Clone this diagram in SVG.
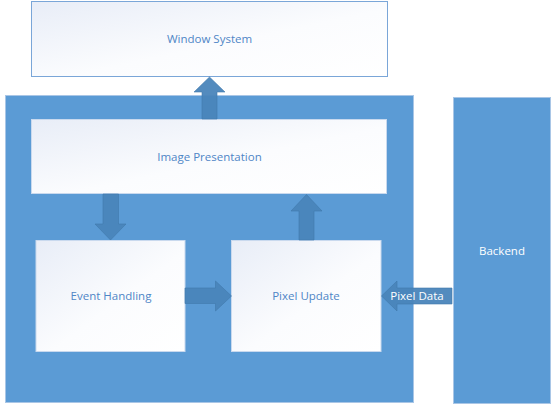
<svg xmlns="http://www.w3.org/2000/svg" width="557" height="412" viewBox="0 0 557 412">
<defs>
<linearGradient id="g" x1="0" y1="0" x2="1" y2="1">
<stop offset="0" stop-color="#e8edf7"/>
<stop offset="0.55" stop-color="#fbfcfe"/>
<stop offset="1" stop-color="#ffffff"/>
</linearGradient>
</defs>
<style>
.lbl{font-family:"Open Sans","Liberation Sans",sans-serif;font-size:11.5px;fill:#4f86c6;text-anchor:middle;dominant-baseline:central}
.wlbl{font-family:"Open Sans","Liberation Sans",sans-serif;font-size:11.5px;fill:#ffffff;text-anchor:middle;dominant-baseline:central}
.box{fill:url(#g);stroke:#c9d9ee;stroke-width:1}
.cont{fill:#5b9bd5;stroke:#a9c6e6;stroke-width:1}
.arr{fill:#4a85ba;stroke:#3f78ab;stroke-width:0.6;fill-opacity:0.95}
</style>
<rect width="557" height="412" fill="#ffffff"/>
<g id="window-system">
<rect x="31.5" y="1.5" width="356" height="75" fill="url(#g)" stroke="#7aa6d8" stroke-width="1"/>
<text class="lbl" x="209.5" y="38.5">Window System</text>
</g>
<g id="frontend">
<rect class="cont" x="5.5" y="95.5" width="408" height="307"/>
</g>
<g id="backend">
<rect class="cont" x="453.5" y="97.5" width="97" height="306"/>
<text class="wlbl" x="502" y="250.5">Backend</text>
</g>
<g id="image-presentation">
<rect class="box" x="31.5" y="119.5" width="355" height="74"/>
<text class="lbl" x="209.5" y="156.5">Image Presentation</text>
</g>
<g id="event-handling">
<rect class="box" x="36" y="240.5" width="149" height="111"/>
<text class="lbl" x="111" y="295.5">Event Handling</text>
</g>
<g id="pixel-update">
<rect class="box" x="231.5" y="240.5" width="149.5" height="111"/>
<text class="lbl" x="306" y="295.5">Pixel Update</text>
</g>
<g id="connectors">
<polygon class="arr" points="202,119 202,92 194,92 209.5,77 225,92 217,92 217,119"/>
<polygon class="arr" points="103,194 118.5,194 118.5,224 126,224 110.5,240 95,224 103,224"/>
<polygon class="arr" points="299,240 299,211 291,211 306.5,194.5 322,211 314,211 314,240"/>
<polygon class="arr" points="185,288 215.5,288 215.5,281 231.5,296 215.5,311 215.5,303.5 185,303.5"/>
<polygon class="arr" points="452,288 397,288 397,281 381.5,296 397,311 397,304 452,304"/>
<text class="wlbl" x="417" y="295.5">Pixel Data</text>
</g>
</svg>
